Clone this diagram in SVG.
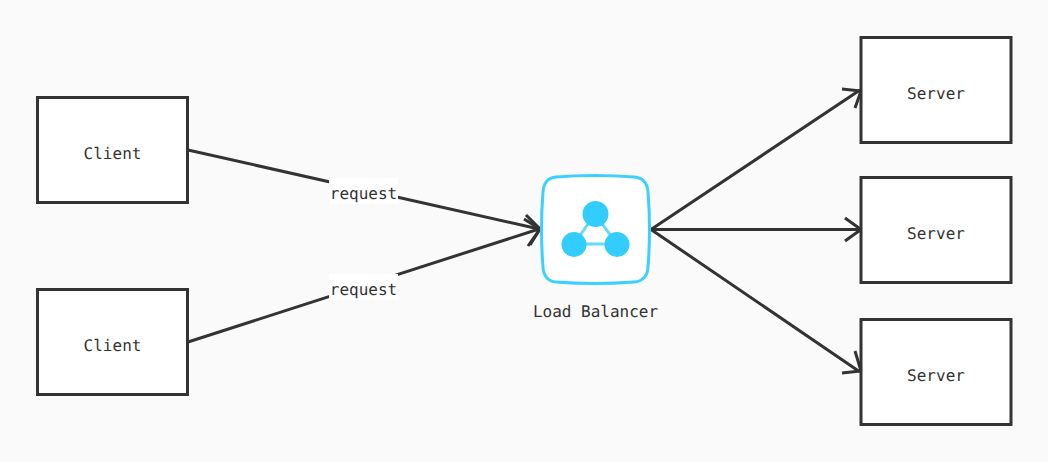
<svg xmlns="http://www.w3.org/2000/svg" width="1048" height="462" viewBox="0 0 1048 462">
<defs>
<style>
.box{fill:#fff;stroke:#333;stroke-width:3}
.t{font-family:"DejaVu Sans Mono","Liberation Mono",monospace;font-size:16px;fill:#333;text-anchor:middle;text-rendering:geometricPrecision}
.line{fill:none;stroke:#333;stroke-width:3}
.ic{fill:#33ccff}
.icl{stroke:#66d9ff;stroke-width:3;fill:none}
</style>
</defs>
<rect width="1048" height="462" fill="#fafafa"/>
<g id="connectors">
<path class="line" d="M188 150L539 229M526 215L540 229L528 246"/>
<path class="line" d="M188 342L539 229M524 219L540 229L530 245"/>
<path class="line" d="M651 229.500L860 90M842 89L861 91L855 108"/>
<path class="line" d="M651 229.500L860 229.500M845 218L861 229.500L845 241"/>
<path class="line" d="M651 229.500L860 372M855 351L861 371L842 373"/>
<rect x="329" y="178" width="69" height="26" fill="#fff"/>
<text class="t" x="363.500" y="199">request</text>
<rect x="329" y="274" width="69" height="26" fill="#fff"/>
<text class="t" x="363.500" y="295">request</text>
</g>
<g id="client1"><rect class="box" x="37.500" y="97.500" width="150" height="105"/><text class="t" x="112.500" y="159">Client</text></g>
<g id="client2"><rect class="box" x="37.500" y="289.500" width="150" height="105"/><text class="t" x="112.500" y="351">Client</text></g>
<g id="lb">
<path d="M556 177Q595 174 634 177Q647 178 648 192Q651 229 648 267Q647 281 634 282Q595 285 556 282Q544 281 543 267Q540 229 543 192Q544 178 556 177Z" fill="#fff" stroke="#3cd0ff" stroke-width="3"/>
<path class="icl" d="M595 214L574 244H617Z"/>
<circle class="ic" cx="595.500" cy="214" r="13"/><circle class="ic" cx="574" cy="244.500" r="12.500"/><circle class="ic" cx="617" cy="244.500" r="12.500"/>
<text class="t" x="595.500" y="317">Load Balancer</text>
</g>
<g id="server1"><rect class="box" x="861" y="37.500" width="150" height="105"/><text class="t" x="936" y="99">Server</text></g>
<g id="server2"><rect class="box" x="861" y="177.500" width="150" height="105"/><text class="t" x="936" y="239">Server</text></g>
<g id="server3"><rect class="box" x="861" y="319.500" width="150" height="105"/><text class="t" x="936" y="381">Server</text></g>
</svg>
